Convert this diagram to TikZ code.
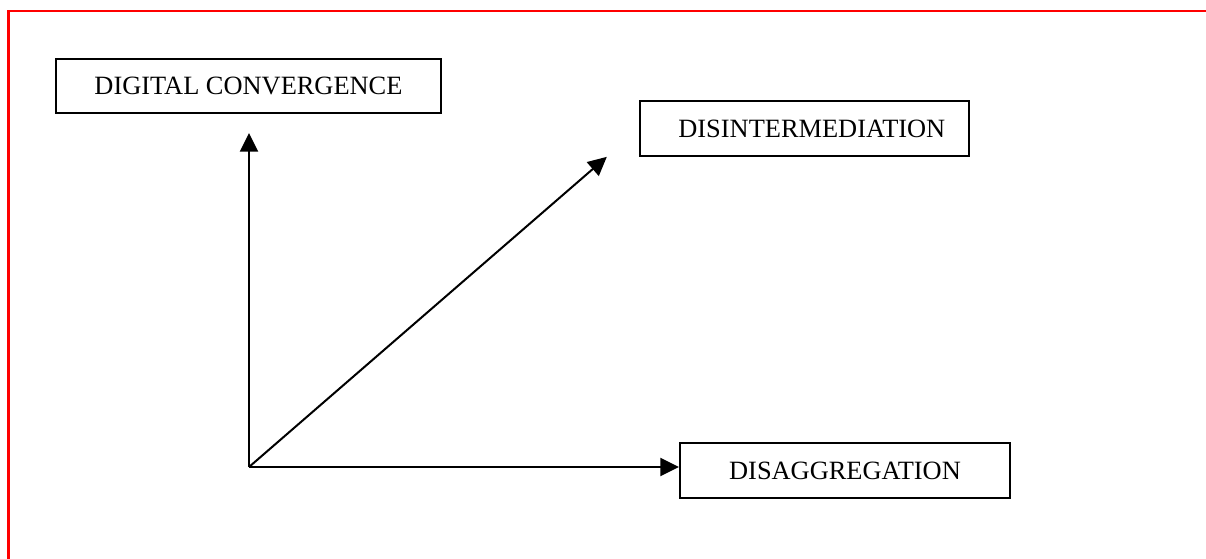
\documentclass[tikz,border=0pt]{standalone}
\usepackage{fontspec}
\setmainfont{Liberation Serif}
\usetikzlibrary{arrows.meta}

\begin{document}
\begin{tikzpicture}[
			x=0.75pt, y=-0.75pt,
			frame/.style={
				draw=red,
				line width=1.6pt
			},
			box/.style={
				draw,
				line width=1.5pt,
				minimum height=41pt,
				inner sep=0,
				font=\fontsize{19.8}{24}\selectfont
			},
			arrow/.style={
				-{Triangle[length=14pt, width=13.5pt]},
				line width=1.5pt
			}
		]

		\useasboundingbox (0,0) rectangle (1206,558);
		\draw[frame] (8.5,570) -- (8.5,11) -- (1220,11);

		\node [box, minimum width=289pt] (CONV) at (248.5,86) {DIGITAL CONVERGENCE};
		\node [box, minimum width=247pt] (INTER) at (804.5,128.5) {\hspace{11pt}DISINTERMEDIATION};
		\node [box, minimum width=247.5pt] (DISAG) at (845,470.5) {DISAGGREGATION};

		\coordinate (O) at (249,467);
		\coordinate (T) at ([xshift=-24pt]INTER.south west);

		\draw[arrow, shorten >=14pt] (O) -- (O |- CONV.south);
		\draw[arrow] (O) -- (T);
		\draw[arrow] (O) -- (O -| DISAG.west);
		%\draw[arrow] (O) -- (INTER);

	\end{tikzpicture}
\end{document}
